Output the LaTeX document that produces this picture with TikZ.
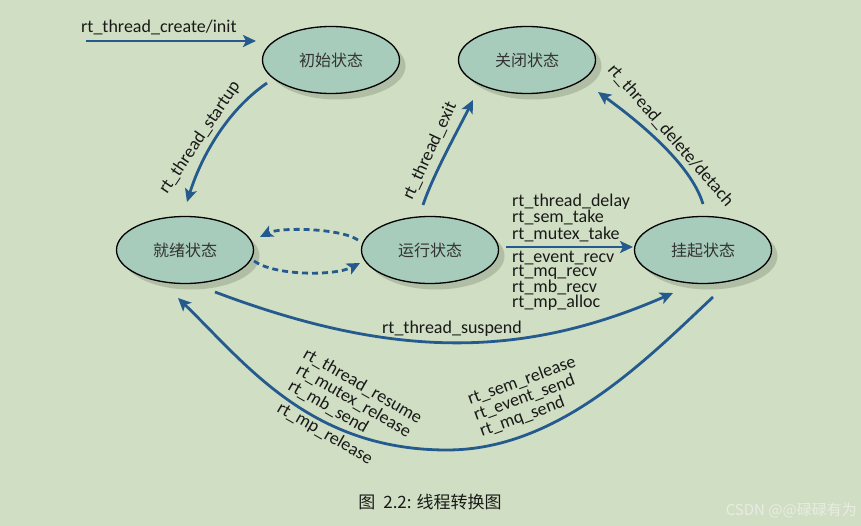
\documentclass[tikz,border=0pt]{standalone}
\usepackage{fontspec}
\setmainfont{Carlito}
\newfontfamily\cjk{Noto Sans CJK SC}
\usetikzlibrary{arrows.meta,shapes.geometric,shadows,calc}
\definecolor{bgc}{HTML}{D0DFC3}
\definecolor{elc}{HTML}{A7CCBB}
\definecolor{shc}{HTML}{B0BEA5}
\definecolor{arc}{HTML}{255A8E}
\definecolor{stc}{HTML}{333333}
\definecolor{wmc}{HTML}{E8ECE4}
\begin{document}
\begin{tikzpicture}[x=1pt,y=-1pt,
  st/.style={ellipse, draw=black, line width=1.3pt, fill=elc,
    minimum width=137pt, minimum height=67pt, inner sep=0pt,
    font=\cjk\fontsize{16}{16}\selectfont, text=stc,
    drop shadow={shadow xshift=6pt, shadow yshift=-6pt, fill=shc, opacity=1}},
  arr/.style={draw=arc, line width=2.8pt, -{Stealth[length=13pt,width=12pt,inset=3pt]}},
  darr/.style={arr, dash pattern=on 6pt off 4pt},
  lbl/.style={font=\fontsize{18}{18}\selectfont, text=black!90, inner sep=0pt, anchor=base west}]
\fill[bgc] (0,0) rectangle (861,526);
\useasboundingbox (0,0) rectangle (861,526);

\node[st] (init)  at (331,60)  {初始状态};
\node[st] (close) at (527,60)  {关闭状态};
\node[st] (ready) at (185,250) {就绪状态};
\node[st] (run)   at (430,250) {运行状态};
\node[st] (susp)  at (703,250) {挂起状态};

\coordinate (src) at (86,41);
\draw[arr] (src) -- ($(init.center)+(-75,-19)$);
\draw[arr] ($(init.center)+(-64,23)$) .. controls (225,112) and (200,160) .. ($(ready.center)+(2,-48)$);
\draw[arr] ($(run.center)+(-7,-45)$) .. controls (433,175) and (458,130) .. ($(close.center)+(-54,40)$);
\draw[arr] ($(susp.center)+(0,-46)$) .. controls (691,164) and (638,121) .. ($(close.center)+(71,32)$);
\draw[darr] ($(run.center)+(-72,-10)$) .. controls (340,228) and (280,227) .. ($(ready.center)+(75,-13)$);
\draw[darr] ($(ready.center)+(69,11)$) .. controls (275,276) and (335,276) .. ($(run.center)+(-70,13)$);
\draw[arr] ($(run.center)+(76,-3)$) -- ($(susp.center)+(-70,-3)$);
\draw[arr] ($(ready.center)+(30,42)$) .. controls (390,358) and (520,360) .. ($(susp.center)+(-30,43)$);
\draw[arr] ($(susp.center)+(10,47)$) .. controls (644,362) and (557,450) .. (447,450)
  .. controls (310,450) and (246,364) .. ($(ready.center)+(-7,48)$);

\node[lbl] (lcreate) at (81,33) {rt\_thread\_create/init};
\node[lbl, rotate=56] (lstart) at (167,195) {rt\_thread\_startup};
\node[lbl, rotate=65] (lexit) at (412,201) {rt\_thread\_exit};
\node[lbl, rotate=-49] (ldel) at (607,70) {rt\_thread\_delete/detach};

\node[lbl] (a1) at (512,207) {rt\_thread\_delay};
\node[lbl] (a2) at (512,223) {rt\_sem\_take};
\node[lbl] (a3) at (512,240) {rt\_mutex\_take};
\node[lbl] (b1) at (512,263) {rt\_event\_recv};
\node[lbl] (b2) at (512,277) {rt\_mq\_recv};
\node[lbl] (b3) at (512,292) {rt\_mb\_recv};
\node[lbl] (b4) at (512,308) {rt\_mp\_alloc};

\node[lbl] (lsusp) at (382,333) {rt\_thread\_suspend};

\node[lbl, rotate=-30] (c1) at (302,357) {rt\_thread\_resume};
\node[lbl, rotate=-30] (c2) at (295,373) {rt\_mutex\_release};
\node[lbl, rotate=-30] (c3) at (287,389) {rt\_mb\_send};
\node[lbl, rotate=-30] (c4) at (276,411) {rt\_mp\_release};

\node[lbl, rotate=20] (d1) at (470,405) {rt\_sem\_release};
\node[lbl, rotate=20] (d2) at (476,421) {rt\_event\_send};
\node[lbl, rotate=20] (d3) at (482,437) {rt\_mq\_send};

\node[font=\cjk\fontsize{17}{17}\selectfont, text=black!90, inner sep=0pt, anchor=base] (cap) at (430,508) {图\hspace{8pt}2.2:\hspace{5pt}线程转换图};
\node[font=\cjk\fontsize{15}{15}\selectfont, text=wmc, inner sep=0pt, anchor=base east] (wm) at (857,515) {CSDN @@碌碌有为};
\end{tikzpicture}
\end{document}
